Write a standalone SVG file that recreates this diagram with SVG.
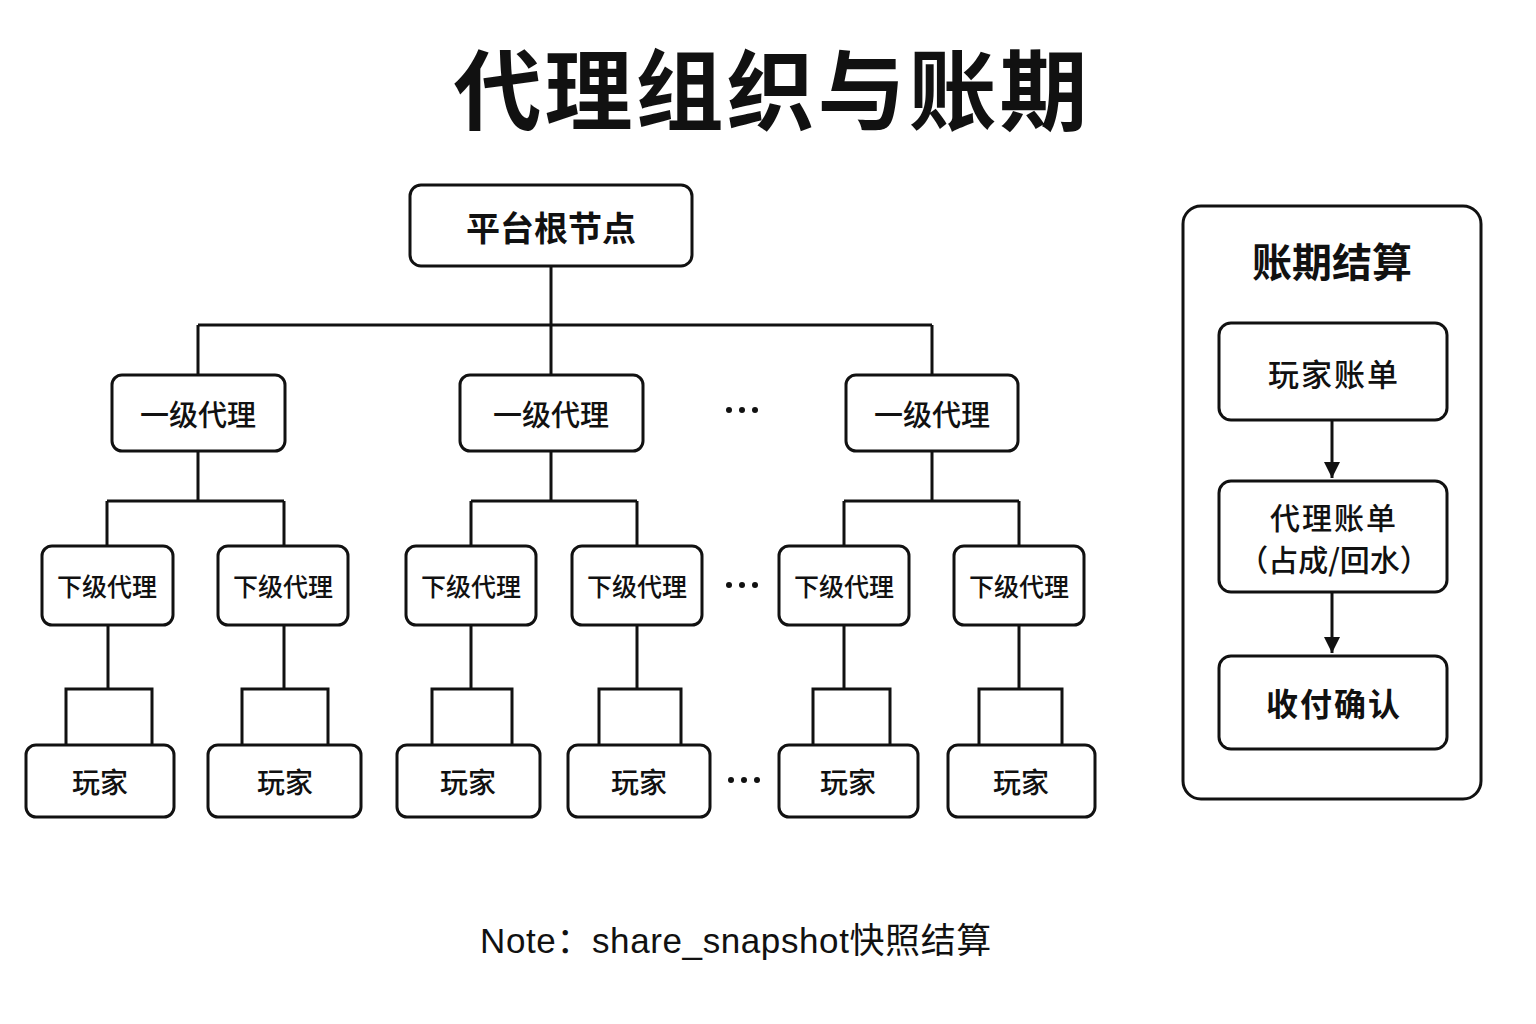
<svg xmlns="http://www.w3.org/2000/svg" width="1536" height="1024" viewBox="0 0 1536 1024">
<style>
.box{fill:#fff;stroke:#111;stroke-width:3;}
.ln{fill:none;stroke:#111;stroke-width:3;}
.t{font-family:"Noto Sans CJK SC","Noto Sans",sans-serif;fill:#111;text-anchor:middle;dominant-baseline:central;font-weight:500;}
.b{font-weight:700;}
.dot{fill:#111;}
</style>
<defs>
<marker id="ah" markerWidth="16" markerHeight="16" refX="16" refY="8" orient="auto" markerUnits="userSpaceOnUse" viewBox="0 0 16 16">
<path d="M0,0 L16,8 L0,16 Z" fill="#111"/>
</marker>
</defs>
<rect width="1536" height="1024" fill="#fff"/>
<text class="t b" x="772" y="84" font-size="88" letter-spacing="3">代理组织与账期</text>

<g id="panel"><rect class="box" x="1183" y="206" width="298" height="593" rx="18"/><text class="t b" x="1332" y="260" font-size="40">账期结算</text></g>

<g id="connectors">
<path class="ln" d="M551,266 V325 M198,325 H932 M198,325 V375 M551,325 V375 M932,325 V375"/>
<path class="ln" d="M198,451 V501 M107,501 H284 M107,501 V546 M284,501 V546"/>
<path class="ln" d="M551,451 V501 M471,501 H637 M471,501 V546 M637,501 V546"/>
<path class="ln" d="M932,451 V501 M844,501 H1019 M844,501 V546 M1019,501 V546"/>
<path class="ln" d="M108,625 V689 M66,745 V689 H152 V745"/>
<path class="ln" d="M284,625 V689 M242,745 V689 H328 V745"/>
<path class="ln" d="M471,625 V689 M432,745 V689 H512 V745"/>
<path class="ln" d="M637,625 V689 M599,745 V689 H681 V745"/>
<path class="ln" d="M844,625 V689 M813,745 V689 H890 V745"/>
<path class="ln" d="M1019,625 V689 M979,745 V689 H1062 V745"/>
<line class="ln" x1="1332" y1="420" x2="1332" y2="478" marker-end="url(#ah)"/>
<line class="ln" x1="1332" y1="592" x2="1332" y2="653" marker-end="url(#ah)"/>
</g>

<g id="root"><rect class="box" x="410" y="185" width="282" height="81" rx="11"/><text class="t b" x="551" y="226" font-size="34">平台根节点</text></g>

<g id="l1a"><rect class="box" x="112" y="375" width="173" height="76" rx="10"/><text class="t" x="198" y="413" font-size="29">一级代理</text></g>
<g id="l1b"><rect class="box" x="460" y="375" width="183" height="76" rx="10"/><text class="t" x="551" y="413" font-size="29">一级代理</text></g>
<g id="l1c"><rect class="box" x="846" y="375" width="172" height="76" rx="10"/><text class="t" x="932" y="413" font-size="29">一级代理</text></g>
<g id="dots1"><circle class="dot" cx="729" cy="410" r="3"/><circle class="dot" cx="742" cy="410" r="3"/><circle class="dot" cx="755" cy="410" r="3"/></g>

<g id="l2a"><rect class="box" x="42" y="546" width="131" height="79" rx="10"/><text class="t" x="107" y="585" font-size="25">下级代理</text></g>
<g id="l2b"><rect class="box" x="218" y="546" width="130" height="79" rx="10"/><text class="t" x="283" y="585" font-size="25">下级代理</text></g>
<g id="l2c"><rect class="box" x="406" y="546" width="130" height="79" rx="10"/><text class="t" x="471" y="585" font-size="25">下级代理</text></g>
<g id="l2d"><rect class="box" x="572" y="546" width="130" height="79" rx="10"/><text class="t" x="637" y="585" font-size="25">下级代理</text></g>
<g id="l2e"><rect class="box" x="779" y="546" width="130" height="79" rx="10"/><text class="t" x="844" y="585" font-size="25">下级代理</text></g>
<g id="l2f"><rect class="box" x="954" y="546" width="130" height="79" rx="10"/><text class="t" x="1019" y="585" font-size="25">下级代理</text></g>
<g id="dots2"><circle class="dot" cx="729" cy="585" r="3"/><circle class="dot" cx="742" cy="585" r="3"/><circle class="dot" cx="755" cy="585" r="3"/></g>

<g id="p1"><rect class="box" x="26" y="745" width="148" height="72" rx="10"/><text class="t" x="100" y="781" font-size="28">玩家</text></g>
<g id="p2"><rect class="box" x="208" y="745" width="153" height="72" rx="10"/><text class="t" x="285" y="781" font-size="28">玩家</text></g>
<g id="p3"><rect class="box" x="397" y="745" width="143" height="72" rx="10"/><text class="t" x="468" y="781" font-size="28">玩家</text></g>
<g id="p4"><rect class="box" x="568" y="745" width="142" height="72" rx="10"/><text class="t" x="639" y="781" font-size="28">玩家</text></g>
<g id="p5"><rect class="box" x="779" y="745" width="139" height="72" rx="10"/><text class="t" x="848" y="781" font-size="28">玩家</text></g>
<g id="p6"><rect class="box" x="948" y="745" width="147" height="72" rx="10"/><text class="t" x="1021" y="781" font-size="28">玩家</text></g>
<g id="dots3"><circle class="dot" cx="731" cy="780" r="3"/><circle class="dot" cx="744" cy="780" r="3"/><circle class="dot" cx="757" cy="780" r="3"/></g>

<g id="s1"><rect class="box" x="1219" y="323" width="228" height="97" rx="12"/><text class="t" x="1334" y="372" font-size="31" letter-spacing="2">玩家账单</text></g>
<g id="s2"><rect class="box" x="1219" y="481" width="228" height="111" rx="12"/><text class="t" x="1334" y="516" font-size="30" letter-spacing="2">代理账单</text><text class="t" x="1334" y="558" font-size="30">（占成/回水）</text></g>
<g id="s3"><rect class="box" x="1219" y="656" width="228" height="93" rx="12"/><text class="t b" x="1334" y="702" font-size="32" letter-spacing="2">收付确认</text></g>

<text class="t" x="736" y="940" font-size="35" letter-spacing="0.6" style="font-family:'Liberation Sans','Noto Sans CJK SC',sans-serif;font-weight:400">Note：share_snapshot快照结算</text>
</svg>
